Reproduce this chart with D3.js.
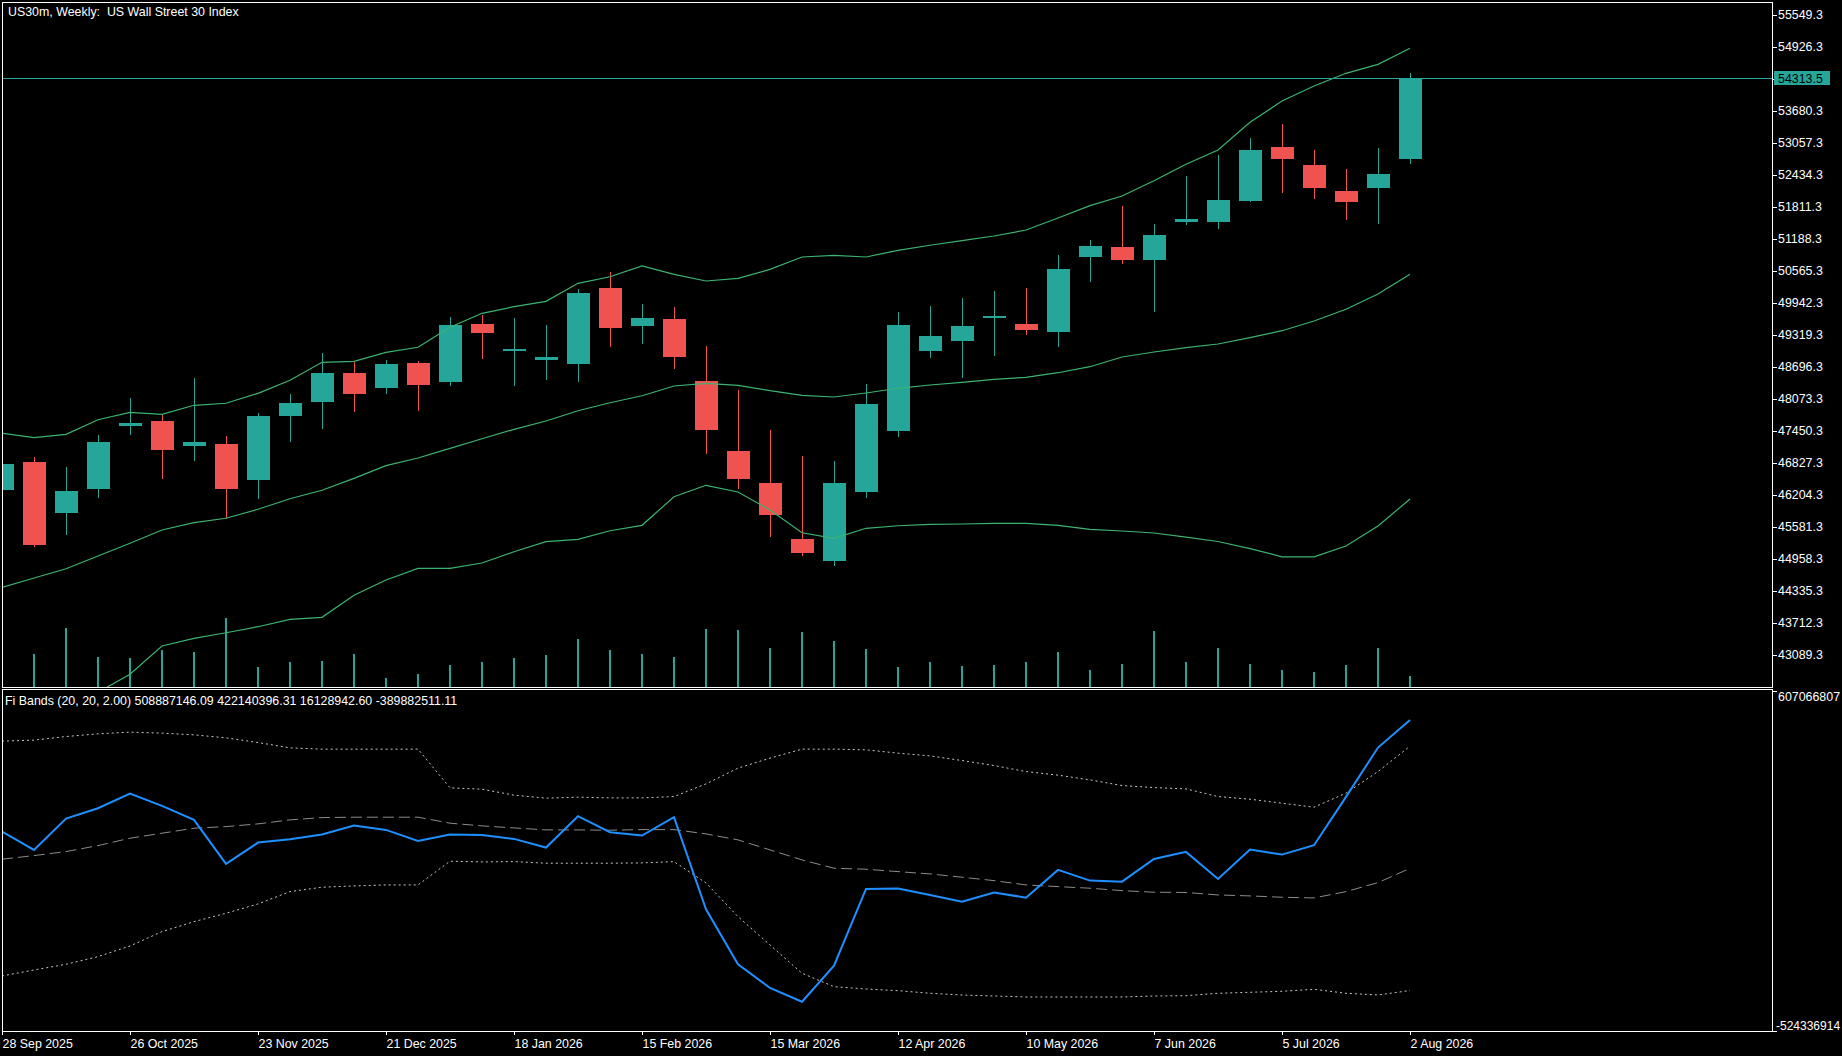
<!DOCTYPE html>
<html>
<head>
<meta charset="utf-8">
<title>US30m, Weekly</title>
<script src="https://cdn.jsdelivr.net/npm/d3@7"></script>
<style>
  body { margin: 0; background: #000; overflow: hidden; }
  svg { display: block; }
  text { font-family: "Liberation Sans", Arial, sans-serif; font-size: 12.4px; fill: #fff; }
</style>
</head>
<body>
<script>
var w = 1842;
var h = 1056;

// one bar per week
var weeks = ["2025-09-28", "2025-10-05", "2025-10-12", "2025-10-19", "2025-10-26",
  "2025-11-02", "2025-11-09", "2025-11-16", "2025-11-23", "2025-11-30",
  "2025-12-07", "2025-12-14", "2025-12-21", "2025-12-28", "2026-01-04",
  "2026-01-11", "2026-01-18", "2026-01-25", "2026-02-01", "2026-02-08",
  "2026-02-15", "2026-02-22", "2026-03-01", "2026-03-08", "2026-03-15",
  "2026-03-22", "2026-03-29", "2026-04-05", "2026-04-12", "2026-04-19",
  "2026-04-26", "2026-05-03", "2026-05-10", "2026-05-17", "2026-05-24",
  "2026-05-31", "2026-06-07", "2026-06-14", "2026-06-21", "2026-06-28",
  "2026-07-05", "2026-07-12", "2026-07-19", "2026-07-26", "2026-08-02"];

// OHLC
var open = [46307, 46847, 45860, 46327, 47553, 47645, 47164, 47197, 46502, 47748,
  48021, 48579, 48293, 48774, 48410, 49533, 49014, 48838, 48760, 50234,
  49500, 49631, 48424, 47061, 46438, 45348, 44925, 46268, 47456, 49014,
  49208, 49664, 49533, 49383, 50844, 51033, 50785, 51525, 51525, 51934,
  52979, 52629, 52123, 52187, 52752];
var high = [46870, 46944, 46749, 47372, 48093, 47762, 48482, 47353, 47801, 48171,
  48969, 48794, 48833, 48819, 49670, 49709, 49650, 49514, 50215, 50546,
  49923, 49864, 49105, 48248, 47470, 46963, 46866, 48365, 49767, 49884,
  50040, 50176, 50234, 50877, 51169, 51831, 51480, 52415, 52824, 53155,
  53427, 52921, 52551, 52960, 54420];
var low = [46250, 45198, 45431, 46152, 47378, 46522, 46872, 45743, 46132, 47242,
  47495, 47826, 48176, 47845, 48332, 48858, 48332, 48449, 48410, 49091,
  49150, 48663, 47008, 46327, 45392, 45022, 44828, 46152, 47339, 48877,
  48488, 48916, 49325, 49091, 50357, 50707, 49773, 51467, 51389, 51914,
  52090, 51973, 51564, 51486, 52654];
var close = [46808, 45237, 46282, 47236, 47606, 47086, 47236, 46327, 47742, 47995,
  48579, 48176, 48755, 48352, 49514, 49364, 49047, 48891, 50137, 49461,
  49650, 48897, 47476, 46522, 45821, 45081, 46438, 47976, 49514, 49300,
  49494, 49680, 49422, 50604, 51052, 50785, 51266, 51578, 51948, 52921,
  52752, 52187, 51914, 52454, 54313.5];
// tick volume
var volume = [30000, 32700, 58700, 29700, 28700, 36700, 34700, 68700, 19700, 24700,
  25700, 32700, 8700, 12700, 21700, 24700, 28700, 31700, 47700, 36700,
  32700, 29700, 57700, 56700, 38700, 54700, 45700, 37700, 19700, 24700,
  20700, 21700, 24700, 34700, 16700, 23000, 55900, 25300, 39400, 23000,
  17100, 14700, 21700, 39400, 11200];

// Bollinger Bands on price
var bbUpper = [47405, 47320, 47386, 47670, 47814, 47775, 47951, 47990, 48184, 48437,
  48788, 48807, 48982, 49080, 49469, 49742, 49870, 49975, 50326, 50454,
  50663, 50501, 50371, 50423, 50598, 50838, 50871, 50838, 50968, 51066,
  51155, 51247, 51363, 51597, 51837, 52025, 52323, 52643, 52921, 53460,
  53875, 54167, 54414, 54589, 54901];
var bbMiddle = [44407, 44588, 44769, 45017, 45264, 45523, 45665, 45751, 45926, 46132,
  46296, 46529, 46775, 46925, 47113, 47300, 47483, 47645, 47845, 48001,
  48137, 48326, 48379, 48340, 48235, 48145, 48112, 48190, 48282, 48346,
  48398, 48457, 48496, 48585, 48702, 48891, 48988, 49072, 49144, 49267,
  49403, 49592, 49820, 50117, 50501];
var bbLower = [41409, 41856, 42152, 42364, 42714, 43264, 43414, 43523, 43640, 43784,
  43823, 44251, 44549, 44777, 44777, 44880, 45100, 45295, 45342, 45509,
  45614, 46171, 46393, 46263, 45912, 45470, 45361, 45556, 45606, 45634,
  45640, 45653, 45653, 45614, 45536, 45503, 45464, 45386, 45299, 45161,
  45001, 45001, 45211, 45601, 46126];

// Fi Bands (20, 20, 2.00), millions
var fi = [138.3, 77.4, 181.5, 216.0, 264.6, 223.7, 177.1, 30.9, 101.7, 113.0,
  128.3, 158.2, 143.9, 107.3, 128.3, 127.0, 114.0, 85.1, 189.5, 136.3,
  125.0, 186.1, -119.7, -302.6, -381.4, -426.9, -307.3, -52.3, -51.0, -72.2,
  -94.5, -64.5, -81.2, 10.9, -24.6, -28.0, 47.5, 70.8, -19.0, 78.4,
  61.8, 93.0, 253.6, 417.5, 508.88714609];
var fiUpper = [438.8, 442.1, 454.1, 463.1, 468.7, 465.4, 459.7, 449.8, 434.2, 416.5,
  412.2, 412.2, 412.2, 412.2, 283.5, 279.2, 259.3, 249.3, 252.6, 250.3,
  250.3, 254.6, 296.8, 349.0, 382.3, 412.2, 412.2, 409.9, 398.9, 389.9,
  374.3, 357.7, 337.7, 325.8, 310.1, 291.2, 284.5, 280.2, 254.6, 245.9,
  232.6, 219.3, 265.9, 337.7, 422.14039631];
var fiMiddle = [46.5, 58.5, 71.8, 91.7, 116.3, 132.9, 149.5, 154.9, 163.9, 177.1,
  184.8, 186.1, 186.1, 186.1, 166.2, 157.2, 150.5, 143.9, 143.9, 142.9,
  144.9, 144.9, 130.6, 110.7, 77.4, 44.2, 16.5, 13.2, 5.3, -2.4,
  -13.4, -24.6, -39.0, -44.6, -49.9, -57.9, -63.2, -64.0, -72.2, -75.5,
  -79.9, -82.2, -61.2, -31.3, 16.1289426];
var fiLower = [-341.5, -321.6, -302.6, -277.3, -241.8, -194.2, -161.0, -133.1, -102.1, -61.2,
  -46.6, -42.3, -39.0, -39.0, 39.8, 37.5, 38.5, 33.2, 33.2, 33.2,
  34.2, 38.5, -32.3, -144.4, -238.4, -332.5, -377.1, -384.7, -390.4, -399.0,
  -404.7, -408.0, -411.3, -411.3, -411.3, -411.3, -408.0, -407.0, -399.0, -395.7,
  -392.4, -385.7, -399.0, -404.7, -389.88251111];

// right scale
var priceTicks = [55549.3, 54926.3, 54303.3, 53680.3, 53057.3, 52434.3, 51811.3,
  51188.3, 50565.3, 49942.3, 49319.3, 48696.3, 48073.3, 47450.3, 46827.3,
  46204.3, 45581.3, 44958.3, 44335.3, 43712.3, 43089.3];
var lastPrice = 54313.5;
var fiMax = 607.066807;
var fiMin = -524.336914;

var upColor = "#26a69a";
var downColor = "#ef5350";
var bandColor = "#3cb371";

var parseDay = d3.utcParse("%Y-%m-%d");
var bars = weeks.map(function (d, i) {
  return { date: parseDay(d), o: open[i], h: high[i], l: low[i], c: close[i], v: volume[i] };
});

// scales
var x = d3.scaleUtc()
  .domain([bars[0].date, bars[bars.length - 1].date])
  .range([2, 1410]);
var yPrice = d3.scaleLinear()
  .domain([priceTicks[priceTicks.length - 1], priceTicks[0]])
  .range([655, 15]);
var yVol = d3.scaleLinear().domain([0, 100000]).range([687, 587]);
var yFi = d3.scaleLinear().domain([fiMin, fiMax]).range([1031, 690.5]);

var svg = d3.select("body").append("svg").attr("width", w).attr("height", h);
svg.append("rect").attr("width", w).attr("height", h).attr("fill", "#000");

var defs = svg.append("defs");
defs.append("clipPath").attr("id", "clipMain")
  .append("rect").attr("x", 3).attr("y", 3).attr("width", 1769).attr("height", 684);
defs.append("clipPath").attr("id", "clipFi")
  .append("rect").attr("x", 3).attr("y", 690).attr("width", 1769).attr("height", 341);

var main = svg.append("g").attr("clip-path", "url(#clipMain)");

// volumes
main.append("g")
  .selectAll("rect")
  .data(bars)
  .enter()
  .append("rect")
  .attr("x", function (d) { return Math.round(x(d.date)) - 1; })
  .attr("width", 2)
  .attr("y", function (d) { return yVol(d.v); })
  .attr("height", function (d) { return yVol(0) - yVol(d.v); })
  .attr("fill", upColor)
  .attr("shape-rendering", "crispEdges");

// candles
var candle = main.append("g")
  .selectAll("g")
  .data(bars)
  .enter()
  .append("g")
  .attr("shape-rendering", "crispEdges");
candle.append("line")
  .attr("x1", function (d) { return Math.round(x(d.date)) + 0.5; })
  .attr("x2", function (d) { return Math.round(x(d.date)) + 0.5; })
  .attr("y1", function (d) { return yPrice(d.h); })
  .attr("y2", function (d) { return yPrice(d.l); })
  .attr("stroke", function (d) { return d.c >= d.o ? upColor : downColor; })
  .attr("stroke-width", 1);
candle.append("rect")
  .attr("x", function (d) { return Math.round(x(d.date)) - 11; })
  .attr("width", 23)
  .attr("y", function (d) { return yPrice(Math.max(d.o, d.c)); })
  .attr("height", function (d) { return Math.max(1.5, Math.abs(yPrice(d.o) - yPrice(d.c))); })
  .attr("fill", function (d) { return d.c >= d.o ? upColor : downColor; });

// bollinger bands
[bbUpper, bbMiddle, bbLower].forEach(function (band) {
  var line = d3.line()
    .x(function (d, i) { return x(bars[i].date); })
    .y(function (d) { return yPrice(d); });
  main.append("path")
    .attr("d", line(band))
    .attr("fill", "none")
    .attr("stroke", bandColor)
    .attr("stroke-width", 1.2);
});

// last price line
main.append("line")
  .attr("x1", 2).attr("x2", 1772)
  .attr("y1", Math.round(yPrice(lastPrice)) + 0.5)
  .attr("y2", Math.round(yPrice(lastPrice)) + 0.5)
  .attr("stroke", upColor)
  .attr("stroke-width", 1);

// Fi pane
var sub = svg.append("g").attr("clip-path", "url(#clipFi)");
var fiLine = d3.line()
  .x(function (d, i) { return x(bars[i].date); })
  .y(function (d) { return yFi(d); });
sub.append("path").attr("d", fiLine(fiUpper))
  .attr("fill", "none").attr("stroke", "#c8c8c8").attr("stroke-width", 1)
  .attr("stroke-dasharray", "2,3");
sub.append("path").attr("d", fiLine(fiLower))
  .attr("fill", "none").attr("stroke", "#c8c8c8").attr("stroke-width", 1)
  .attr("stroke-dasharray", "2,3");
sub.append("path").attr("d", fiLine(fiMiddle))
  .attr("fill", "none").attr("stroke", "#8c8c8c").attr("stroke-width", 1)
  .attr("stroke-dasharray", "11,5");
sub.append("path").attr("d", fiLine(fi))
  .attr("fill", "none").attr("stroke", "#1e90ff").attr("stroke-width", 2);

// frames
svg.append("rect").attr("x", 2.5).attr("y", 2.5).attr("width", 1770).attr("height", 685)
  .attr("fill", "none").attr("stroke", "#fff");
svg.append("rect").attr("x", 2.5).attr("y", 689.5).attr("width", 1770).attr("height", 342)
  .attr("fill", "none").attr("stroke", "#fff");

// price axis
var yAxis = svg.append("g")
  .attr("transform", "translate(1772,0)")
  .call(d3.axisRight(yPrice).tickValues(priceTicks).tickSize(5).tickPadding(1)
    .tickFormat(d3.format(".1f")));
yAxis.select(".domain").remove();
yAxis.selectAll("line").attr("stroke", "#fff");
yAxis.selectAll("text").attr("fill", "#fff").attr("font-size", null).attr("font-family", null);

// last price label
var lastY = yPrice(lastPrice);
svg.append("rect").attr("x", 1774).attr("y", Math.round(lastY) - 7)
  .attr("width", 56).attr("height", 14).attr("fill", upColor);
svg.append("text").attr("x", 1778).attr("y", lastY).attr("dy", "0.34em")
  .style("fill", "#000").text(d3.format(".1f")(lastPrice));

// Fi scale labels
[fiMax, fiMin].forEach(function (v) {
  svg.append("line").attr("x1", 1772).attr("x2", 1777)
    .attr("y1", Math.round(yFi(v)) + 0.5).attr("y2", Math.round(yFi(v)) + 0.5)
    .attr("stroke", "#fff");
});
svg.append("text").attr("x", 1778).attr("y", yFi(fiMax) + 10)
  .text(Math.round(fiMax * 1e6));
svg.append("text").attr("x", 1776).attr("y", yFi(fiMin) - 1)
  .style("font-size", "12px")
  .text(Math.round(fiMin * 1e6));

// time axis
var xAxis = svg.append("g")
  .attr("transform", "translate(0,1031)")
  .call(d3.axisBottom(x)
    .tickValues(bars.filter(function (d, i) { return i % 4 == 0; }).map(function (d) { return d.date; }))
    .tickFormat(d3.utcFormat("%-d %b %Y"))
    .tickSize(4).tickPadding(4));
xAxis.select(".domain").remove();
xAxis.selectAll("line").attr("stroke", "#fff");
xAxis.selectAll("text").attr("fill", "#fff").attr("text-anchor", "start")
  .attr("font-size", null).attr("font-family", null);

// titles
svg.append("text").attr("x", 8).attr("y", 15.5).text("US30m, Weekly:  US Wall Street 30 Index")
  .attr("xml:space", "preserve").style("white-space", "pre");
var n = fi.length - 1;
svg.append("text").attr("x", 5).attr("y", 705)
  .text("Fi Bands (20, 20, 2.00) " + [fi[n], fiUpper[n], fiMiddle[n], fiLower[n]].map(function (v) {
    return (v * 1e6).toFixed(2);
  }).join(" "));
</script>
</body>
</html>
